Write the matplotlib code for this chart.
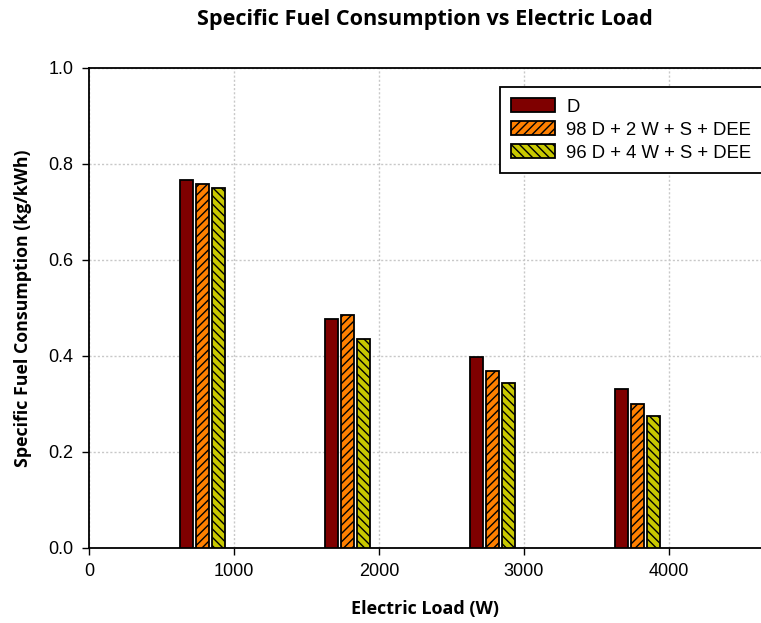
import matplotlib
matplotlib.use("Agg")
import matplotlib.pyplot as plt
import numpy as np

plt.rcParams['hatch.linewidth'] = 1.0

loads = [1000, 2000, 3000, 4000]
series_names = ["D", "98 D + 2 W + S + DEE", "96 D + 4 W + S + DEE"]
sfc_d = [0.767, 0.477, 0.398, 0.332]
sfc_98 = [0.758, 0.485, 0.369, 0.300]
sfc_96 = [0.750, 0.435, 0.344, 0.275]
x_ticks = [0, 1000, 2000, 3000, 4000]
y_ticks = [0.0, 0.2, 0.4, 0.6, 0.8, 1.0]

colors = ["#7f0000", "#ff8000", "#c8c800"]
hatches = [None, "////", "\\\\\\\\"]

W, H = 761, 623
fig = plt.figure(figsize=(W / 100, H / 100), dpi=100)
ax_left, ax_right = 89, 761
ax = fig.add_axes([ax_left / W, 75 / H, (ax_right - ax_left) / W, 480 / H])
x_max = (ax_right - ax_left) / 0.145

bar_w = 90
offsets = [-330, -217, -107]
for vals, name, c, h, off in zip([sfc_d, sfc_98, sfc_96], series_names, colors, hatches, offsets):
    xs = np.array(loads) + off
    ax.bar(xs, vals, width=bar_w, color=c, edgecolor="black", linewidth=1.3,
           hatch=h, label=name, zorder=3)

ax.set_xlim(0, x_max)
ax.set_ylim(0, 1.0)
ax.set_xticks(x_ticks)
ax.set_yticks(y_ticks)
ax.set_yticklabels([f"{v:.1f}" for v in y_ticks])
ax.tick_params(axis="both", direction="out", length=5, width=1, labelsize=13, pad=6)
for lab in ax.get_xticklabels() + ax.get_yticklabels():
    lab.set_fontfamily("Liberation Sans")

ax.grid(True, linestyle=(0, (1.5, 1.5)), color="#c8c8c8", linewidth=1, zorder=0)
ax.set_axisbelow(True)
for s in ax.spines.values():
    s.set_linewidth(1.3)
    s.set_color("black")
ax.spines["right"].set_visible(False)

ax.set_xlabel("Electric Load (W)", fontfamily="Open Sans", fontweight="bold", fontsize=13, labelpad=14)
ax.set_ylabel("Specific Fuel Consumption (kg/kWh)", fontfamily="Open Sans", fontweight="bold",
              fontsize=12.8, labelpad=12)
fig.text(425 / W, 1 - 20 / H, "Specific Fuel Consumption vs Electric Load",
         fontfamily="Open Sans", fontweight="bold", fontsize=15.6, ha="center", va="center")

# legend box starts at x=500px and runs on past the right edge of the figure
leg = fig.legend(loc="upper left", bbox_to_anchor=(500 / W, 1 - 87 / H, 290 / W, 0),
                 mode="expand",
                 frameon=True, fancybox=False, edgecolor="black", framealpha=1,
                 prop={"family": "Liberation Sans", "size": 13.3},
                 handlelength=2.4, handleheight=0.8, borderpad=0.6, labelspacing=0.3,
                 handletextpad=0.6, borderaxespad=0)
leg.get_frame().set_linewidth(1.3)

fig.savefig("out.png", dpi=100)
